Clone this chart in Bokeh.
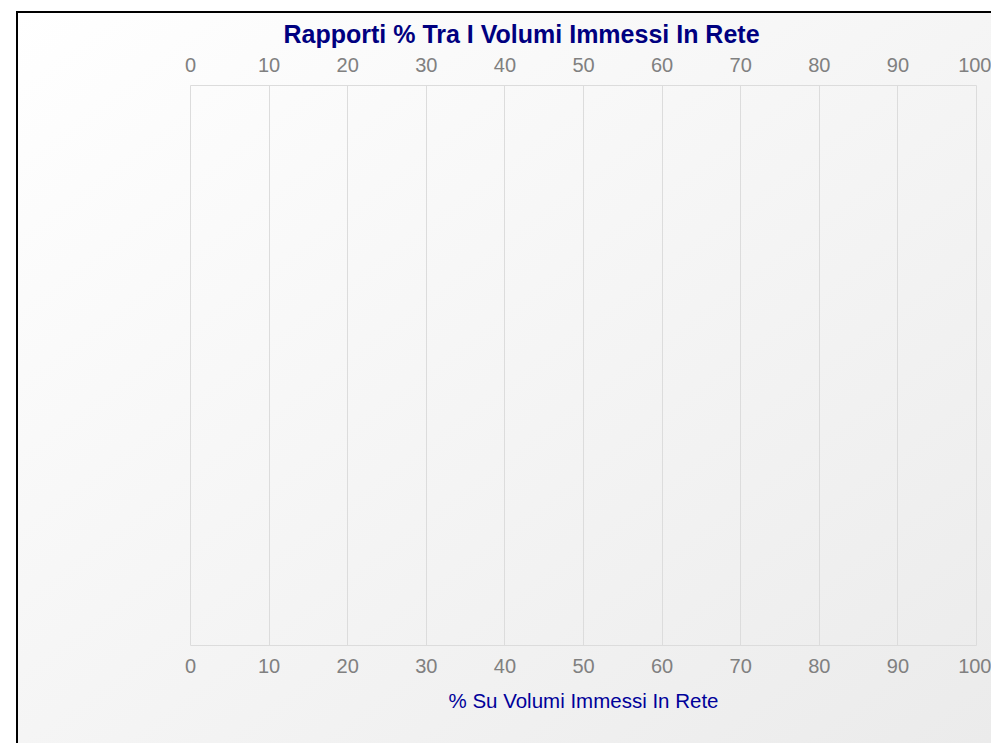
from bokeh.plotting import figure
from bokeh.models import ColumnDataSource, Range1d, LinearAxis, FixedTicker
from bokeh.embed import file_html
from bokeh.resources import INLINE

# ---- data (the reference chart shows no bars) ----
categories = []
values = []
x_ticks = [0, 10, 20, 30, 40, 50, 60, 70, 80, 90, 100]
title_text = "Rapporti % Tra I Volumi Immessi In Rete"
x_label = "% Su Volumi Immessi In Rete"

source = ColumnDataSource(data=dict(y=list(range(len(categories))), right=values))

p = figure(width=975, height=732, output_backend="svg", toolbar_location=None,
           x_range=Range1d(0, 100), y_range=Range1d(0, 1),
           x_axis_location="below", tools="")
p.margin = (11, 0, 0, 16)
p.styles = {"box-shadow": "inset 2px 2px 0 0 #000000",
            "background": "linear-gradient(to bottom right, #ffffff 0%, #ebebeb 100%)"}
p.background_fill_alpha = 0
p.border_fill_alpha = 0
p.min_border_left = 174
p.min_border_right = 15
p.min_border_top = 73
p.min_border_bottom = 98
p.outline_line_color = "#dcdcdc"

p.hbar(y="y", right="right", height=0.6, source=source, color="#1f4e9a")

p.title.text = title_text
p.title.align = "left"
p.title.offset = 93
p.title.text_font = "Liberation Sans"
p.title.text_font_size = "25px"
p.title.text_font_style = "bold"
p.title.text_color = "#000080"
p.title.standoff = 13

ticker = FixedTicker(ticks=x_ticks)
top = LinearAxis(ticker=ticker)
p.add_layout(top, "above")
for ax in p.xaxis:
    ax.ticker = ticker
    ax.axis_line_color = None
    ax.major_tick_line_color = None
    ax.minor_tick_line_color = None
    ax.major_label_text_font = "Liberation Sans"
    ax.major_label_text_font_size = "20px"
    ax.major_label_text_color = "#808080"
top.major_label_standoff = 8
p.below[0].major_label_standoff = 7

p.below[0].axis_label = x_label
p.below[0].axis_label_text_font = "Liberation Sans"
p.below[0].axis_label_text_font_size = "20.5px"
p.below[0].axis_label_text_font_style = "normal"
p.below[0].axis_label_text_color = "#00009a"
p.below[0].axis_label_standoff = 13

p.yaxis.visible = False
p.xgrid.ticker = ticker
p.xgrid.grid_line_color = "#dcdcdc"
p.ygrid.grid_line_color = None

open("out.html", "w").write(file_html(p, INLINE))
